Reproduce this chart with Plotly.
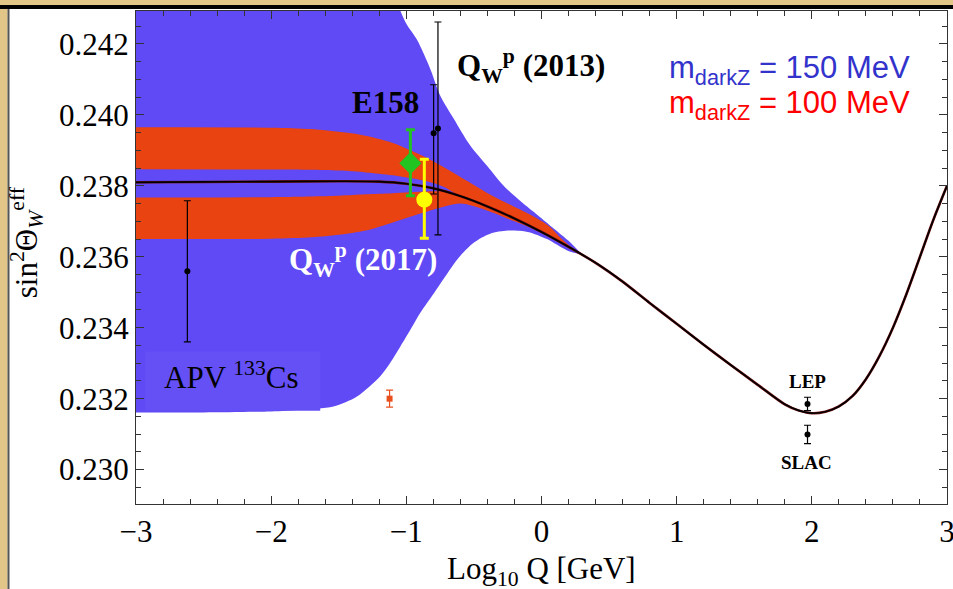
import plotly.graph_objects as go

# ---------------- data ----------------
# Standard-model running curve
line_x = [-3, -2.5, -2, -1.5, -1.2, -1.0, -0.8, -0.6, -0.4, -0.2, 0.0, 0.2, 0.4, 0.6, 0.8,
          1.0, 1.2, 1.4, 1.6, 1.8, 1.9, 2.0, 2.1, 2.2, 2.3, 2.4, 2.5, 2.6, 2.7, 2.8, 2.9, 3.0]
line_y = [0.23810, 0.23811, 0.23812, 0.23813, 0.23812, 0.23806, 0.23793, 0.23771, 0.23742,
          0.23708, 0.23670, 0.23628, 0.23583, 0.23530, 0.23470, 0.23411, 0.23352, 0.23295,
          0.23239, 0.23184, 0.23167, 0.23159, 0.23163, 0.23178, 0.23207, 0.23255, 0.23320,
          0.23400, 0.23495, 0.23600, 0.23705, 0.23800]

# Blue band (m_darkZ = 150 MeV)
blue_up_x = [-3, -1.25, -1.12, -1.05, -1.0, -0.92, -0.82, -0.75, -0.65, -0.53, -0.4, -0.28,
             -0.15, -0.03, 0.09, 0.2, 0.3]
blue_up_y = [0.2460, 0.2460, 0.2440, 0.24300, 0.24257, 0.24211, 0.24127, 0.24055, 0.23990,
             0.23915, 0.23855, 0.23800, 0.23755, 0.23718, 0.23680, 0.23645, 0.23606]
blue_lo_x = [-3, -2.5, -2.0, -1.785, -1.54, -1.365, -1.193, -1.119, -1.044, -0.97, -0.9,
             -0.8, -0.72, -0.625, -0.5, -0.38, -0.25, -0.1, 0.04, 0.19, 0.3]
blue_lo_y = [0.23161, 0.23161, 0.23164, 0.23169, 0.23178, 0.23206, 0.23263, 0.23301, 0.23347,
             0.23394, 0.23440, 0.23495, 0.23540, 0.23592, 0.23640, 0.23665, 0.23674, 0.23670,
             0.23650, 0.23618, 0.23606]

# Red band (m_darkZ = 100 MeV), upper lobe
red1_top_x = [-3, -2, -1.7, -1.34, -1.1, -0.85, -0.6, -0.35, -0.1, 0.05, 0.15, 0.25]
red1_top_y = [0.23965, 0.23964, 0.23960, 0.23944, 0.23921, 0.23879, 0.23825, 0.23769,
              0.23722, 0.23688, 0.23650, 0.23617]
red1_bot_x = [-3, -2, -1.5, -1.3, -1.1, -0.85, -0.72, -0.6, -0.4, -0.2, 0.0, 0.2, 0.25]
red1_bot_y = [0.23847, 0.23846, 0.23843, 0.23838, 0.23830, 0.23813, 0.23797, 0.23771,
              0.23742, 0.23708, 0.23670, 0.23628, 0.23617]
# Red band, lower lobe
red2_top_x = [-3, -2, -1.5, -1.3, -1.1, -0.85, -0.7, -0.6, -0.4, -0.2, 0.0]
red2_top_y = [0.23767, 0.23768, 0.23772, 0.23776, 0.23779, 0.23784, 0.23783, 0.23771,
              0.23742, 0.23708, 0.23670]
red2_bot_x = [-3, -2, -1.7, -1.5, -1.3, -1.1, -0.85, -0.6, -0.4, -0.2, 0.0]
red2_bot_y = [0.23650, 0.23651, 0.23655, 0.23662, 0.23674, 0.23697, 0.23727, 0.23750,
              0.23730, 0.23700, 0.23670]

# APV label box corners (data units)
apv_box_x = [-2.933, -1.637]
apv_box_y = [0.23166, 0.23333]

# Measurements
apv_x, apv_y, apv_err = [-2.62], [0.23559], [0.00199]
orange_x, orange_y, orange_err = [-1.124], [0.23200], [0.00024]
e158_x, e158_y, e158_up, e158_dn = [-0.970], [0.23864], [0.00094], [0.00092]
qw17_x, qw17_y, qw17_up, qw17_dn = [-0.867], [0.23761], [0.00114], [0.00109]
qw13_x = [-0.798, -0.766]
qw13_y = [0.23948, 0.23962]
qw13_up = [0.00137, 0.00300]
qw13_dn = [0.00171, 0.00300]
z_x = [1.968, 1.968]          # LEP, SLAC
z_y = [0.23185, 0.23099]
z_err = [0.00019, 0.00026]

x_ticks = [-3, -2, -1, 0, 1, 2, 3]
x_ticktext = ["−3", "−2", "−1", "0", "1", "2", "3"]
y_ticks = [0.230, 0.232, 0.234, 0.236, 0.238, 0.240, 0.242]

BLUE = "#5f4af5"
RED = "#e84310"
SERIF = "Liberation Serif, Times New Roman, serif"
SANS = "Liberation Sans, Arial, sans-serif"

fig = go.Figure()

def band(xl, yl, xu, yu, color):
    fig.add_trace(go.Scatter(x=xl, y=yl, mode="lines",
                             line=dict(width=0, color=color, shape="spline", smoothing=0.8),
                             hoverinfo="skip", showlegend=False))
    fig.add_trace(go.Scatter(x=xu, y=yu, mode="lines", fill="tonexty", fillcolor=color,
                             line=dict(width=0, color=color, shape="spline", smoothing=0.8),
                             hoverinfo="skip", showlegend=False))

band(blue_lo_x, blue_lo_y, blue_up_x, blue_up_y, BLUE)
# APV label box (slightly lighter blue)
fig.add_trace(go.Scatter(x=[apv_box_x[0], apv_box_x[1], apv_box_x[1], apv_box_x[0]],
                         y=[apv_box_y[0], apv_box_y[0], apv_box_y[1], apv_box_y[1]],
                         mode="lines", fill="toself", fillcolor="#6550f6", line=dict(width=0),
                         showlegend=False, hoverinfo="skip"))
band(red1_bot_x, red1_bot_y, red1_top_x, red1_top_y, RED)
band(red2_bot_x, red2_bot_y, red2_top_x, red2_top_y, RED)

# SM curve (dark red under black)
fig.add_trace(go.Scatter(x=line_x, y=line_y, mode="lines",
                         line=dict(color="#7a1010", width=2.6, shape="spline", smoothing=0.8),
                         showlegend=False, hoverinfo="skip"))
fig.add_trace(go.Scatter(x=line_x, y=line_y, mode="lines",
                         line=dict(color="#000000", width=1.7, shape="spline", smoothing=0.8),
                         showlegend=False, hoverinfo="skip"))

def pts(x, y, up, dn, color, size, symbol, thick, capw):
    fig.add_trace(go.Scatter(x=x, y=y, mode="markers",
                             marker=dict(color=color, size=size, symbol=symbol, line=dict(width=0)),
                             error_y=dict(type="data", symmetric=False, array=up, arrayminus=dn,
                                          color=color, thickness=thick, width=capw),
                             showlegend=False, hoverinfo="skip"))

pts(apv_x, apv_y, apv_err, apv_err, "#000000", 6, "circle", 1.2, 3.5)
pts(orange_x, orange_y, orange_err, orange_err, "#e8501e", 6, "square", 1.2, 3.5)
pts(qw13_x, qw13_y, qw13_up, qw13_dn, "#000000", 6, "circle", 1.2, 3.5)
pts(e158_x, e158_y, e158_up, e158_dn, "#22c422", 17, "diamond", 3, 4.5)
pts(qw17_x, qw17_y, qw17_up, qw17_dn, "#ffff00", 16, "circle", 3, 4.5)
pts(z_x, z_y, z_err, z_err, "#000000", 6, "circle", 1.2, 3.5)

def ann(text, x, y, size, color="black", font=SERIF, xanchor="left"):
    fig.add_annotation(text=text, x=x, y=y, xref="x", yref="y", showarrow=False,
                       xanchor=xanchor, yanchor="middle",
                       font=dict(family=font, size=size, color=color))

ann("<b>Q<sub>W</sub><sup>p</sup> (2013)</b>", -0.640, 0.24138, 31)
ann("<b>E158</b>", -1.415, 0.24036, 31)
ann("<b>Q<sub>W</sub><sup>p</sup> (2017)</b>", -1.880, 0.23592, 31, color="white")
ann("APV <sup>133</sup>Cs", -2.81, 0.23266, 31)
ann("<b>LEP</b>", 1.97, 0.23248, 19, xanchor="center")
ann("<b>SLAC</b>", 1.963, 0.23020, 19, xanchor="center")
ann("m<sub>darkZ</sub> = 150 MeV", 0.925, 0.24128, 31, color="#3333cc", font=SANS)
ann("m<sub>darkZ</sub> = 100 MeV", 0.925, 0.24027, 31, color="#ff0000", font=SANS)

# axis titles
fig.add_annotation(text="sin<sup>2</sup>Θ<sub><i>W</i></sub><sup>eff</sup>", xref="paper", yref="paper",
                   x=-0.135, y=0.53, textangle=-90, showarrow=False,
                   xanchor="center", yanchor="middle", font=dict(family=SERIF, size=31, color="black"))
fig.add_annotation(text="Log<sub>10</sub> Q [GeV]", xref="paper", yref="paper",
                   x=0.5, y=-0.135, showarrow=False, xanchor="center", yanchor="middle",
                   font=dict(family=SERIF, size=31, color="black"))

def px2paper_x(px):
    return (px - 136) / 811.0

def px2paper_y(py):
    return (504.0 - py) / 493.0

frame = [
    dict(type="rect", xref="paper", yref="paper", x0=px2paper_x(0), x1=px2paper_x(953),
         y0=px2paper_y(5), y1=px2paper_y(0), fillcolor="#e2c687", line=dict(width=0), layer="above"),
    dict(type="rect", xref="paper", yref="paper", x0=px2paper_x(0), x1=px2paper_x(953),
         y0=px2paper_y(9), y1=px2paper_y(5), fillcolor="#000000", line=dict(width=0), layer="above"),
    dict(type="rect", xref="paper", yref="paper", x0=px2paper_x(0), x1=px2paper_x(7.5),
         y0=px2paper_y(589), y1=px2paper_y(9), fillcolor="#e2c687", line=dict(width=0), layer="above"),
    dict(type="rect", xref="paper", yref="paper", x0=px2paper_x(7.5), x1=px2paper_x(9.5),
         y0=px2paper_y(589), y1=px2paper_y(9), fillcolor="#555555", line=dict(width=0), layer="above"),
]
fig.update_layout(shapes=frame)

axis_common = dict(showgrid=False, zeroline=False, showline=True, linecolor="#333333", linewidth=1.3,
                   mirror="ticks", ticks="inside", ticklen=8, tickwidth=1.2, tickcolor="#333333",
                   tickfont=dict(family=SERIF, size=31, color="black"), ticklabeloverflow="allow",
                   automargin=False)
fig.update_xaxes(range=[-3, 3], tickvals=x_ticks, ticktext=x_ticktext,
                 minor=dict(dtick=0.2, tick0=0, ticks="inside", ticklen=5, tickwidth=1, tickcolor="#333333"),
                 **axis_common)
fig.update_yaxes(range=[0.22903, 0.24293], tickvals=y_ticks, ticktext=[f"{v:.3f}" for v in y_ticks],
                 minor=dict(dtick=0.0005, tick0=0.23, ticks="inside", ticklen=5, tickwidth=1, tickcolor="#333333"),
                 **axis_common)

fig.update_layout(width=953, height=589, margin=dict(l=136, r=6, t=11, b=85),
                  paper_bgcolor="white", plot_bgcolor="white", showlegend=False)

fig.write_html("out.html")
